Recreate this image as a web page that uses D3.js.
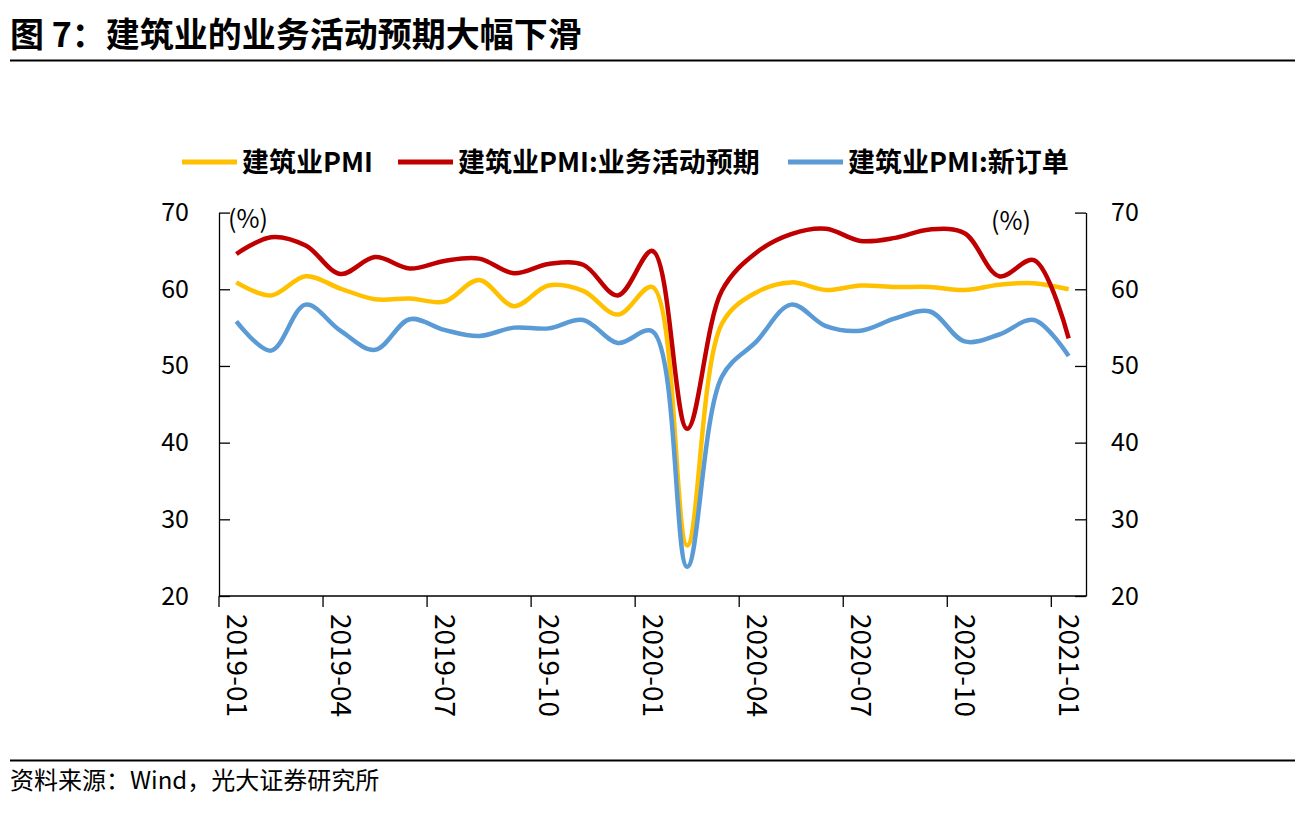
<!DOCTYPE html>
<html>
<head>
<meta charset="utf-8">
<script src="https://cdn.jsdelivr.net/npm/d3@7"></script>
<style>
  body { margin: 0; background: #fff; }
  text { font-family: "Noto Sans CJK SC", "Noto Sans", sans-serif; }
</style>
</head>
<body>
<script>
const width = 1301, height = 818;

// months shown on the x axis
const months = ['2019-01', '2019-02', '2019-03', '2019-04', '2019-05', '2019-06', '2019-07', '2019-08',
  '2019-09', '2019-10', '2019-11', '2019-12', '2020-01', '2020-02', '2020-03', '2020-04', '2020-05',
  '2020-06', '2020-07', '2020-08', '2020-09', '2020-10', '2020-11', '2020-12', '2021-01'];
const tickMonths = ['2019-01', '2019-04', '2019-07', '2019-10', '2020-01', '2020-04', '2020-07', '2020-10', '2021-01'];

// series values (%)
const pmi = [60.9, 59.2, 61.7, 60.1, 58.7, 58.8, 58.4, 61.2, 57.8, 60.5, 59.8, 56.7, 60.3,
  26.6, 55.5, 59.6, 60.9, 59.9, 60.5, 60.3, 60.3, 59.9, 60.6, 60.8, 60.0];
const expectation = [64.6, 66.8, 65.7, 62.0, 64.2, 62.7, 63.7, 64.0, 62.1, 63.3, 63.2, 59.2, 65.0,
  41.8, 59.8, 64.8, 67.2, 67.9, 66.3, 66.7, 67.8, 67.3, 61.7, 63.8, 53.6];
const newOrders = [55.8, 52.0, 58.0, 54.6, 52.1, 56.1, 54.7, 53.9, 55.0, 54.9, 56.0, 53.0, 54.5,
  23.8, 48.6, 53.2, 58.0, 55.2, 54.6, 56.2, 57.1, 53.2, 54.1, 56.0, 51.3];

const yTicks = [20, 30, 40, 50, 60, 70];

const series = [
  { name: '建筑业PMI', values: pmi, color: '#FFC000' },
  { name: '建筑业PMI:业务活动预期', values: expectation, color: '#C00000' },
  { name: '建筑业PMI:新订单', values: newOrders, color: '#5B9BD5' }
];

let svg = d3.select('body').append('svg')
  .attr('width', width)
  .attr('height', height);

// title + rules
svg.append('text')
  .attr('x', 10).attr('y', 47)
  .style('font-size', '34px').style('font-weight', 'bold')
  .text('图 7：建筑业的业务活动预期大幅下滑');
svg.append('line').attr('x1', 10).attr('x2', 1295).attr('y1', 60.5).attr('y2', 60.5)
  .attr('stroke', '#000').attr('stroke-width', 2);
svg.append('line').attr('x1', 10).attr('x2', 1295).attr('y1', 760.5).attr('y2', 760.5)
  .attr('stroke', '#000').attr('stroke-width', 2);
svg.append('text')
  .attr('x', 10).attr('y', 789)
  .style('font-size', '24px')
  .text('资料来源：Wind，光大证券研究所');

// scales
const x = d3.scaleBand().domain(months).range([219, 1086]).padding(0);
const y = d3.scaleLinear().domain([20, 70]).range([596, 212.6]);

// left axis
let leftAxis = svg.append('g')
  .attr('transform', 'translate(219,0)')
  .call(d3.axisLeft(y).tickValues(yTicks).tickSizeInner(-11).tickSizeOuter(0).tickPadding(30));
// right axis
let rightAxis = svg.append('g')
  .attr('transform', 'translate(1086,0)')
  .call(d3.axisRight(y).tickValues(yTicks).tickSizeInner(-11).tickSizeOuter(0).tickPadding(25));
[leftAxis, rightAxis].forEach(function (g) {
  g.selectAll('text').style('font-size', '25px').style('font-family', '"Noto Sans CJK SC", sans-serif').attr('fill', '#000');
  g.selectAll('line, path').attr('stroke', '#000').attr('stroke-width', 1.3);
});

// bottom axis: ticks at band edges, labels at band centres
let bottom = svg.append('g');
bottom.append('line')
  .attr('x1', 219).attr('x2', 1086).attr('y1', 596).attr('y2', 596)
  .attr('stroke', '#000').attr('stroke-width', 1.3);
bottom.selectAll('.tick')
  .data(tickMonths)
  .enter()
  .append('line')
  .attr('x1', (d) => x(d)).attr('x2', (d) => x(d))
  .attr('y1', 596).attr('y2', 607)
  .attr('stroke', '#000').attr('stroke-width', 1.3);
bottom.selectAll('.lab')
  .data(tickMonths)
  .enter()
  .append('text')
  .attr('transform', (d) => 'translate(' + (x(d) + x.bandwidth() / 2) + ',614) rotate(90)')
  .attr('dy', '0.35em')
  .style('font-size', '28px')
  .text((d) => d);

// unit labels
svg.append('text').attr('x', 228).attr('y', 228).style('font-size', '25px').text('(%)');
svg.append('text').attr('x', 991).attr('y', 230).style('font-size', '25px').text('(%)');

// lines (smoothed like the office chart)
const line = d3.line()
  .x((d, i) => x(months[i]) + x.bandwidth() / 2)
  .y((d) => y(d))
  .curve(d3.curveCatmullRom.alpha(0.5));

svg.append('g').selectAll('path')
  .data(series)
  .enter()
  .append('path')
  .attr('d', (d) => line(d.values))
  .attr('fill', 'none')
  .attr('stroke', (d) => d.color)
  .attr('stroke-width', 4.5)
  .attr('stroke-linejoin', 'round');

// legend
const legendX = [182, 398, 788];
let legend = svg.append('g').selectAll('g')
  .data(series)
  .enter()
  .append('g')
  .attr('transform', (d, i) => 'translate(' + legendX[i] + ',162)');
legend.append('line')
  .attr('x1', 0).attr('x2', 55).attr('y1', 0).attr('y2', 0)
  .attr('stroke', (d) => d.color).attr('stroke-width', 5);
legend.append('text')
  .attr('x', 60).attr('dy', '0.36em')
  .style('font-size', '27px').style('font-weight', 'bold')
  .text((d) => d.name);
</script>
</body>
</html>
